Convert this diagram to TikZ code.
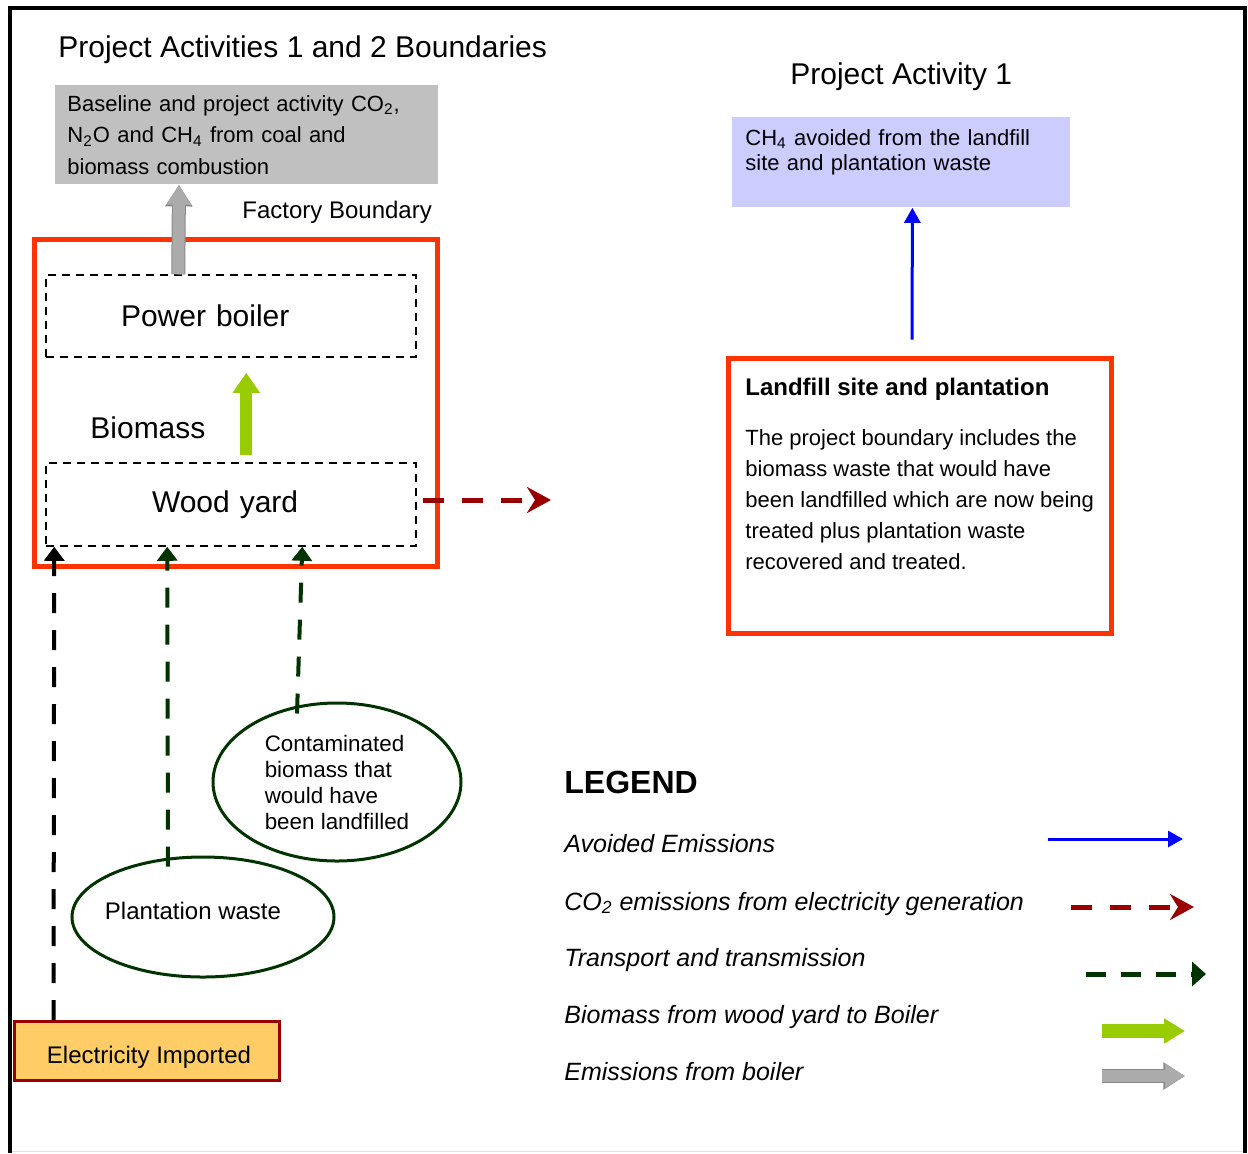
\documentclass[tikz,border=0pt]{standalone}
\usepackage{fontspec}
\setmainfont{Liberation Sans}
\usepackage{xcolor}
\usetikzlibrary{arrows.meta,shapes.geometric}
\definecolor{bndred}{HTML}{FF3300}
\definecolor{elecred}{HTML}{990000}
\definecolor{wastegreen}{HTML}{003300}
\definecolor{biogreen}{HTML}{99CC00}
\definecolor{emisgrey}{HTML}{C0C0C0}
\definecolor{arrowgrey}{HTML}{ABABAB}
\definecolor{edgegrey}{HTML}{888888}
\definecolor{avoidblue}{HTML}{CCCCFF}
\definecolor{importfill}{HTML}{FFCC66}
\newcommand{\chemsub}[1]{\textsubscript{#1}}
\tikzset{
  headtext/.style={font=\fontsize{15}{18}\selectfont,inner sep=0pt},
  smalltext/.style={font=\fontsize{12}{14}\selectfont,inner sep=0pt},
  legendhead/.style={font=\fontsize{16}{19}\selectfont\bfseries,inner sep=0pt},
  legendtext/.style={font=\fontsize{12.5}{15}\selectfont\itshape,inner sep=0pt},
  bodytext/.style={font=\fontsize{11}{15.5}\selectfont,align=left,inner sep=0pt},
  emisbox/.style={fill=emisgrey,font=\fontsize{11}{15.7}\selectfont,align=left,text width=179.5pt,inner xsep=6pt,minimum height=49.5pt},
  avoidbox/.style={fill=avoidblue,font=\fontsize{11}{12.5}\selectfont,align=left,text width=156pt,inner xsep=6.5pt,minimum height=45pt},
  bound/.style={draw=bndred,line width=2.5pt},
  dashbox/.style={draw,line width=0.75pt,dash pattern=on 4pt off 3pt,minimum width=185pt,align=left,font=\fontsize{15}{18}\selectfont},
  oval/.style={ellipse,draw=wastegreen,line width=1.5pt,inner sep=0pt},
  importbox/.style={draw=elecred,fill=importfill,line width=1.5pt,minimum width=132.5pt,minimum height=29.5pt,font=\fontsize{12}{14}\selectfont},
  avoidarrow/.style={draw=blue,line width=1.5pt,-{Triangle[length=7.5pt,width=8pt]}},
  elecarrow/.style={draw=elecred,line width=2.5pt,dash pattern=on 10.5pt off 9pt,-{Stealth[length=12pt,width=13pt,inset=4pt]}},
  transarrow/.style={draw=wastegreen,line width=2pt,dash pattern=on 10pt off 8.5pt,-{Triangle[length=7pt,width=10pt]}},
  importarrow/.style={draw=black,line width=2pt,dash pattern=on 10pt off 8.5pt,-{Triangle[length=7pt,width=10pt]}},
  bioarrow/.style={draw=biogreen,line width=6pt,-{Triangle[length=10pt,width=13pt]}},
  emisarrow/.style={draw=arrowgrey,line width=6pt,-{Triangle[length=10pt,width=11.5pt]},
    preaction={draw=edgegrey,line width=7pt,-{Triangle[length=10.8pt,width=13pt]}}}
}
\begin{document}
\begin{tikzpicture}[x=0.5pt,y=-0.5pt]
  \useasboundingbox (0,0) rectangle (1248,1153);
  % outer frame
  \draw[line width=2pt] (10,1153) -- (10,7.5) -- (1245,7.5) -- (1245,1153);
  \draw[black!12,line width=0.5pt] (12,1151.5) -- (1243,1151.5);

  % left part: factory
  \node[headtext,anchor=base west] (ttlleft) at (58,57) {Project Activities 1 and 2 Boundaries};
  \node[emisbox,anchor=north west] (emis) at (55,85) {Baseline and project activity CO\chemsub{2},\\ N\chemsub{2}O and CH\chemsub{4} from coal and\\ biomass combustion};
  \node[smalltext,anchor=base west] (fblabel) at (242,218.5) {Factory Boundary};
  \node[bound,minimum width=201.5pt,minimum height=163.5pt] (factory) at (236,403) {};
  \node[dashbox,text width=110pt,minimum height=41pt] (boiler) at (231,316) {Power boiler};
  \node[headtext,anchor=base west] (biolabel) at (90,438) {Biomass};
  \node[dashbox,text width=79pt,minimum height=41.5pt] (wood) at (231,504.5) {Wood yard};
  \node[oval,minimum width=124pt,minimum height=79pt,align=left,font=\fontsize{11.2}{13}\selectfont] (cont) at (337,782) {Contaminated\\ biomass that\\ would have\\ been landfilled};
  \node[oval,minimum width=131pt,minimum height=60pt,text height=8.7pt,text depth=6.5pt,font=\fontsize{12}{14}\selectfont] (plant) at (203,917) {\makebox[0pt]{Plantation waste\hspace{10pt}}};
  \node[importbox,text height=14.7pt,text depth=2.5pt] (elec) at (147,1051) {\rule{2pt}{0pt}Electricity Imported};

  % right part: landfill
  \node[headtext,anchor=base west] (ttlright) at (790,84) {Project Activity 1};
  \node[avoidbox,anchor=north west] (avoid) at (732,117) {CH\chemsub{4} avoided from the landfill\\ site and plantation waste\\ \mbox{}};
  \node[bound,minimum width=191.5pt,minimum height=137.5pt] (landfill) at (920,496) {};
  \node[bodytext,anchor=north west] (lftext) at (745,378) {{\bfseries\fontsize{12}{15.5}\selectfont Landfill site and plantation}\\[9.25pt]
    The project boundary includes the\\ biomass waste that would have\\ been landfilled which are now being\\ treated plus plantation waste\\ recovered and treated.};

  % legend
  \node[legendhead,anchor=base west] (legend) at (564,793.5) {LEGEND};
  \node[legendtext,anchor=base west] (lg1) at (564,852) {Avoided Emissions};
  \node[legendtext,anchor=base west] (lg2) at (564,910) {CO\chemsub{2} emissions from electricity generation};
  \node[legendtext,anchor=base west] (lg3) at (564,966) {Transport and transmission};
  \node[legendtext,anchor=base west] (lg4) at (564,1023) {Biomass from wood yard to Boiler};
  \node[legendtext,anchor=base west] (lg5) at (564,1080) {Emissions from boiler};
  \coordinate (ka1) at (1048,839);  \coordinate (kb1) at (1183,839);
  \coordinate (ka2) at (1071,907);  \coordinate (kb2) at (1194,907);
  \coordinate (ka3) at (1086,974);  \coordinate (kb3) at (1206,974);
  \coordinate (ka4) at (1102,1031); \coordinate (kb4) at (1185,1031);
  \coordinate (ka5) at (1102,1076); \coordinate (kb5) at (1185,1076);
  \coordinate (elecend) at (551,500);

  % connectors
  \draw[emisarrow] ([xshift=66.5pt]boiler.north west) -- ([xshift=62pt]emis.south west);
  \draw[bioarrow,shorten <=3.5pt,shorten >=7.5pt] ([xshift=100.5pt]wood.north west) -- ([xshift=100.5pt]boiler.south west);
  \draw[elecarrow,shorten <=3pt] (wood.east |- elecend) -- (elecend);
  \draw[importarrow] ([xshift=20.25pt]elec.north west) -- ([xshift=4.5pt]wood.south west);
  \draw[transarrow] ([xshift=-17.5pt,yshift=-5.5pt]plant.north) -- ([xshift=61pt]wood.south west);
  \draw[transarrow] ([xshift=-20pt,yshift=-6pt]cont.north) -- ([xshift=128.5pt]wood.south west);
  \draw[avoidarrow,shorten <=8.25pt] ([xshift=-4pt]landfill.north) -- ([xshift=5.5pt]avoid.south);

  \draw[avoidarrow] (ka1) -- (kb1);
  \draw[elecarrow] (ka2) -- (kb2);
  \draw[transarrow,line width=2.5pt,dash pattern=on 10pt off 7.5pt,-{Triangle[length=7pt,width=12pt]}] (ka3) -- (kb3);
  \draw[bioarrow,line width=7pt,-{Triangle[length=10.5pt,width=12pt]}] (ka4) -- (kb4);
  \draw[emisarrow] (ka5) -- (kb5);
\end{tikzpicture}
\end{document}
